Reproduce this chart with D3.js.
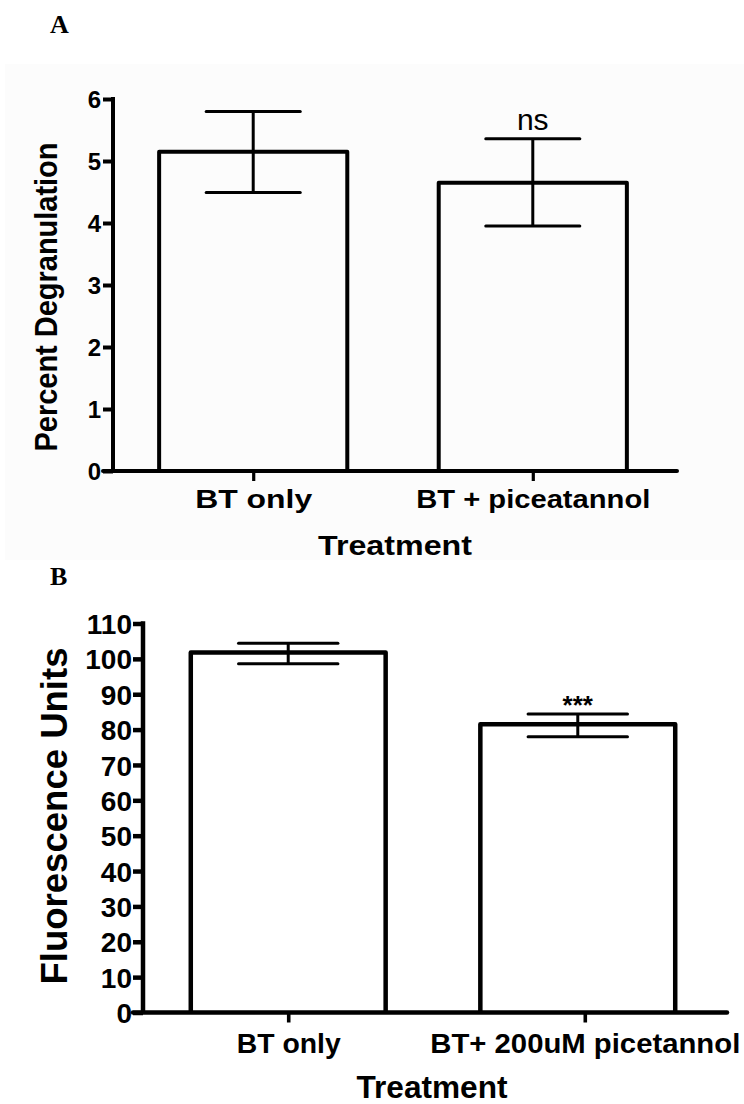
<!DOCTYPE html>
<html><head><meta charset="utf-8">
<script src="https://cdn.jsdelivr.net/npm/d3@7"></script>
<style>body{margin:0;background:#fff}svg{display:block}</style>
</head><body><svg id="c" width="744" height="1104"></svg>
<script>
// ---- Panel A data ----
const categoriesA = ["BT only", "BT + piceatannol"];
const meansA = [5.15, 4.65];
const errLowA = [4.49, 3.95];
const errHighA = [5.80, 5.36];
const sigA = ["", "ns"];
const yTicksA = [0, 1, 2, 3, 4, 5, 6];

// ---- Panel B data ----
const categoriesB = ["BT only", "BT+ 200uM picetannol"];
const meansB = [101.8, 81.5];
const errLowB = [98.6, 78.0];
const errHighB = [104.4, 84.4];
const sigB = ["", "***"];
const yTicksB = [0, 10, 20, 30, 40, 50, 60, 70, 80, 90, 100, 110];

const svg = d3.select("#c");
const SANS = "'Liberation Sans', Arial, sans-serif";
const SERIF = "'Liberation Serif', 'Times New Roman', serif";

// faint panel background
svg.append("rect").attr("x", 5).attr("y", 64).attr("width", 739).attr("height", 496).attr("fill", "#fcfcfc");

function panel(o) {
  const g = svg.append("g");
  const y = d3.scaleLinear().domain([0, o.yMax]).range([o.y0, o.y1]);
  const x = d3.scaleBand().domain(o.cats).range([o.ax, o.xEnd]).paddingInner(0.327).paddingOuter(0.165);
  const xt = d3.scalePoint().domain(o.cats).range([x(o.cats[0]) + x.bandwidth() / 2, x(o.cats[1]) + x.bandwidth() / 2 + o.tickShift]);

  // bars
  g.selectAll("path.bar").data(o.means).join("path")
    .attr("d", (d, i) => {
      const x0 = x(o.cats[i]), x1 = x0 + x.bandwidth();
      return `M${x0},${y(0)}V${y(d)}H${x1}V${y(0)}`;
    })
    .attr("fill", "none").attr("stroke", "#000").attr("stroke-width", o.barW).attr("stroke-linejoin", "round");

  // error bars
  const cap = x.bandwidth() * o.capFrac / 2;
  o.means.forEach((m, i) => {
    const cx = x(o.cats[i]) + x.bandwidth() / 2;
    g.append("line").attr("x1", cx).attr("x2", cx).attr("y1", y(o.lo[i])).attr("y2", y(o.hi[i]))
      .attr("stroke", "#000").attr("stroke-width", o.errW);
    [o.lo[i], o.hi[i]].forEach(v => {
      g.append("line").attr("x1", cx - cap).attr("x2", cx + cap).attr("y1", y(v)).attr("y2", y(v))
        .attr("stroke", "#000").attr("stroke-width", o.errW).attr("stroke-linecap", "round");
    });
    if (o.sig[i]) {
      g.append("text").attr("x", cx).attr("y", y(o.hi[i]) - o.sigGap)
        .attr("text-anchor", "middle").attr("font-family", SANS)
        .attr("font-size", o.sigSize).attr("font-weight", o.sigWeight).text(o.sig[i]);
    }
  });

  // y axis
  const ya = g.append("g").attr("transform", `translate(${o.ax},0)`)
    .call(d3.axisLeft(y).tickValues(o.yTicks).tickSize(o.tick).tickPadding(o.tickPad).tickFormat(d3.format("d")));
  ya.select(".domain").remove();
  ya.selectAll(".tick line").attr("stroke-width", o.axW);
  ya.selectAll("text").attr("font-family", SANS).attr("font-weight", "bold").attr("font-size", o.tickSize).attr("fill", "#000").attr("dy", "0.36em");
  g.append("line").attr("x1", o.ax).attr("x2", o.ax).attr("y1", y(0)).attr("y2", y(o.yMax) - o.axW / 2)
    .attr("stroke", "#000").attr("stroke-width", o.axW);

  // x axis
  g.append("line").attr("x1", o.ax - o.tick).attr("x2", o.xEnd + 4).attr("y1", y(0)).attr("y2", y(0))
    .attr("stroke", "#000").attr("stroke-width", o.axW).attr("stroke-linecap", "round");
  const xa = g.append("g").attr("transform", `translate(0,${y(0)})`)
    .call(d3.axisBottom(xt).tickSize(o.tick).tickPadding(o.xPad));
  xa.select(".domain").remove();
  xa.selectAll(".tick line").attr("stroke-width", o.axW * 0.8);
  xa.selectAll("text").attr("font-family", SANS).attr("font-weight", "bold").attr("font-size", o.catSize).attr("fill", "#000")
    .attr("dy", null).attr("y", o.catY - y(0))
    .attr("textLength", (d, i) => o.catLen[i]).attr("lengthAdjust", "spacingAndGlyphs");

  // axis titles
  g.append("text").attr("transform", `translate(${o.ytX},${o.ytY}) rotate(-90)`)
    .attr("text-anchor", "middle").attr("font-family", SANS).attr("font-weight", "bold")
    .attr("font-size", o.yTitleSize).attr("textLength", o.ytLen).attr("lengthAdjust", "spacingAndGlyphs").text(o.yTitle);
  g.append("text").attr("x", o.xtX).attr("y", o.xtY).attr("text-anchor", "middle")
    .attr("font-family", SANS).attr("font-weight", "bold").attr("font-size", o.xTitleSize)
    .attr("textLength", o.xtLen).attr("lengthAdjust", "spacingAndGlyphs").text("Treatment");

  // panel letter
  svg.append("text").attr("x", 50).attr("y", o.letterY).attr("font-family", SERIF).attr("font-weight", "bold")
    .attr("font-size", 26).text(o.letter);
}

panel({
  cats: categoriesA, means: meansA, lo: errLowA, hi: errHighA, sig: sigA, yTicks: yTicksA,
  yMax: 6, y0: 471, y1: 99, ax: 113, xEnd: 673, tickShift: 0,
  barW: 4, errW: 3, axW: 4, capFrac: 0.5, tick: 10, tickPad: 2, xPad: 8,
  tickSize: 24, catSize: 25, catLen: [117, 234], catY: 508,
  yTitleSize: 31, ytLen: 309, ytX: 57, ytY: 297, xTitleSize: 28, xtLen: 154,
  sigSize: 30, sigWeight: "normal", sigGap: 9,
  yTitle: "Percent Degranulation", xtX: 395, xtY: 555, letter: "A", letterY: 33
});

panel({
  cats: categoriesB, means: meansB, lo: errLowB, hi: errHighB, sig: sigB, yTicks: yTicksB,
  yMax: 110, y0: 1012.5, y1: 623.5, ax: 143, xEnd: 723, tickShift: 7,
  barW: 4.5, errW: 3, axW: 4.5, capFrac: 0.51, tick: 10, tickPad: 1, xPad: 10,
  tickSize: 28, catSize: 28, catLen: [104, 310], catY: 1053,
  yTitleSize: 36, ytLen: 337, ytX: 67, ytY: 816, xTitleSize: 31, xtLen: 151,
  sigSize: 26, sigWeight: "bold", sigGap: 0,
  yTitle: "Fluorescence Units", xtX: 432, xtY: 1098, letter: "B", letterY: 585
});
</script></body></html>
